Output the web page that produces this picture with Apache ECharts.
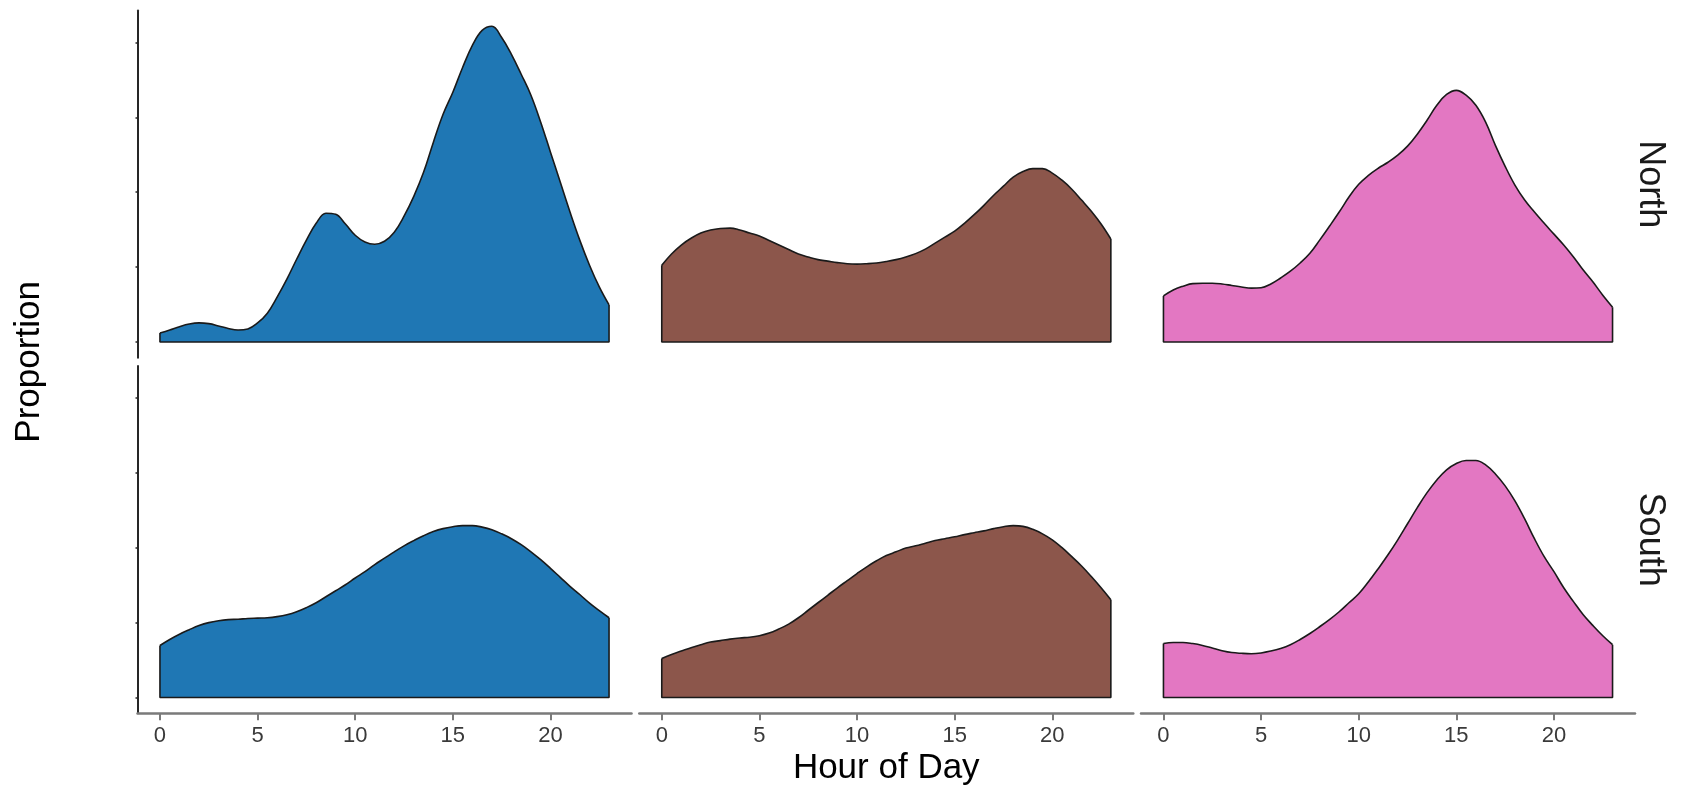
<!DOCTYPE html>
<html>
<head>
<meta charset="utf-8">
<script src="https://cdn.jsdelivr.net/npm/echarts@6/dist/echarts.min.js"></script>
<style>
html,body{margin:0;padding:0;background:#fff;}
#chart{width:1688px;height:791px;}
</style>
</head>
<body>
<div id="chart"></div>
<script>
// ---- data (proportion in percent) ----
const hours = [0,0.5,1,1.5,2,2.5,3,3.5,4,4.5,5,5.5,6,6.5,7,7.5,8,8.5,9,9.5,10,10.5,11,11.5,12,12.5,13,13.5,14,14.5,15,15.5,16,16.5,17,17.5,18,18.5,19,19.5,20,20.5,21,21.5,22,22.5,23];
const rowLabels = ['North', 'South'];
const xTicks = [0, 5, 10, 15, 20];
const yTicks = [0, 2, 4, 6, 8];
const xTitle = 'Hour of Day';
const yTitle = 'Proportion';
const groupColors = ['#1f77b4', '#8c564b', '#e377c2'];

const northBlue  = [0.24,0.32,0.41,0.48,0.51,0.49,0.43,0.36,0.32,0.35,0.51,0.77,1.20,1.68,2.21,2.72,3.17,3.44,3.41,3.15,2.85,2.67,2.61,2.69,2.93,3.36,3.89,4.53,5.33,6.08,6.67,7.33,7.92,8.32,8.43,8.13,7.68,7.15,6.59,5.87,5.07,4.27,3.47,2.72,2.05,1.47,0.99];
const northBrown = [2.05,2.35,2.59,2.77,2.91,2.99,3.03,3.04,2.99,2.91,2.83,2.71,2.59,2.47,2.35,2.27,2.20,2.16,2.12,2.09,2.08,2.09,2.11,2.15,2.20,2.27,2.36,2.48,2.64,2.80,2.96,3.17,3.40,3.65,3.92,4.16,4.40,4.55,4.63,4.63,4.51,4.32,4.08,3.79,3.49,3.15,2.75];
const northPink  = [1.23,1.39,1.49,1.56,1.57,1.57,1.55,1.51,1.47,1.44,1.45,1.55,1.71,1.89,2.11,2.37,2.72,3.09,3.47,3.87,4.21,4.45,4.64,4.80,4.99,5.23,5.55,5.92,6.32,6.61,6.72,6.59,6.32,5.87,5.25,4.69,4.19,3.79,3.47,3.17,2.88,2.59,2.27,1.92,1.60,1.25,0.93];
const southBlue  = [1.39,1.55,1.69,1.81,1.92,2.00,2.05,2.08,2.09,2.11,2.12,2.13,2.16,2.21,2.29,2.40,2.53,2.69,2.85,3.01,3.19,3.36,3.55,3.72,3.89,4.05,4.19,4.32,4.43,4.51,4.56,4.59,4.59,4.55,4.48,4.37,4.24,4.08,3.89,3.68,3.45,3.21,2.97,2.75,2.52,2.32,2.13];
const southBrown = [1.04,1.15,1.24,1.33,1.41,1.48,1.52,1.56,1.59,1.61,1.65,1.72,1.83,1.96,2.13,2.33,2.53,2.73,2.93,3.12,3.31,3.49,3.65,3.79,3.89,3.99,4.05,4.12,4.19,4.24,4.29,4.35,4.40,4.45,4.51,4.56,4.59,4.57,4.49,4.37,4.21,4.00,3.76,3.51,3.23,2.93,2.61];
const southPink  = [1.44,1.47,1.47,1.44,1.39,1.32,1.25,1.20,1.18,1.17,1.19,1.24,1.31,1.41,1.55,1.71,1.89,2.08,2.29,2.53,2.77,3.09,3.44,3.81,4.21,4.64,5.07,5.47,5.81,6.08,6.25,6.33,6.33,6.21,5.97,5.65,5.25,4.77,4.24,3.76,3.36,2.93,2.56,2.21,1.92,1.65,1.41];

const panels = [
  [northBlue, northBrown, northPink],
  [southBlue, southBrown, southPink]
];

// ---- layout ----
const FONT = '"Liberation Sans", Arial, Helvetica, sans-serif';
const colLeft = [137.5, 639.3, 1141];
const colWidth = 494;
const rowTop = [10.5, 366];
const rowHeight = 347.3;

const allVals = [].concat(...panels.map(r => [].concat(...r)));
const ymax = Math.max(...allVals);
const yMin = -0.05 * ymax, yMax = 1.05 * ymax;
const span = hours[hours.length-1] - hours[0];
const xMin = hours[0] - 0.05 * span;
const xMax = hours[hours.length-1] + 0.05 * span;

const grid = [], xAxis = [], yAxis = [], series = [];
let idx = 0;
for (let r = 0; r < 2; r++) {
  for (let c = 0; c < 3; c++) {
    grid.push({left: colLeft[c], top: rowTop[r], width: colWidth, height: rowHeight, containLabel: false});
    const bottom = r === 1;
    xAxis.push({
      type: 'value', gridIndex: idx, min: xMin, max: xMax,
      axisLine: {show: bottom, onZero: false, lineStyle: {color: '#7a7a7a', width: 2.5}},
      axisTick: {show: bottom, customValues: xTicks, length: 7, lineStyle: {color: '#7a7a7a', width: 2}},
      axisLabel: {show: bottom, customValues: xTicks, margin: 12, color: '#3a3a3a', fontSize: 22, fontFamily: FONT},
      splitLine: {show: false}
    });
    const left = c === 0;
    yAxis.push({
      type: 'value', gridIndex: idx, min: yMin, max: yMax,
      axisLine: {show: left, onZero: false, lineStyle: {color: '#262626', width: 2}},
      axisTick: {show: left, customValues: yTicks, length: 2, lineStyle: {color: '#262626', width: 1.5}},
      axisLabel: {show: false},
      splitLine: {show: false}
    });
    const vals = panels[r][c];
    const n = hours.length;
    series.push({
      type: 'line', xAxisIndex: idx, yAxisIndex: idx, smooth: 0.4,
      symbol: 'none', silent: true,
      data: hours.map((h, i) => [h, vals[i]]),
      lineStyle: {color: '#1a1a1a', width: 1.6},
      areaStyle: {color: groupColors[c], opacity: 1},
      z: 2
    });
    series.push({
      type: 'line', xAxisIndex: idx, yAxisIndex: idx, smooth: false,
      symbol: 'none', silent: true,
      data: [[hours[0], vals[0]], [hours[0], 0], [hours[n-1], 0], [hours[n-1], vals[n-1]]],
      lineStyle: {color: '#1a1a1a', width: 1.6},
      z: 3
    });
    idx++;
  }
}

const plotLeft = colLeft[0], plotRight = colLeft[2] + colWidth;
const plotTop = rowTop[0], plotBottom = rowTop[1] + rowHeight;

const graphic = [
  {type: 'text', x: (plotLeft + plotRight) / 2, y: 768, silent: true,
   style: {text: xTitle, font: '35px ' + FONT, fill: '#000', align: 'center', verticalAlign: 'middle'}},
  {type: 'text', x: 29, y: (plotTop + plotBottom) / 2, rotation: Math.PI / 2, silent: true,
   style: {text: yTitle, font: '35px ' + FONT, fill: '#000', align: 'center', verticalAlign: 'middle'}},
  {type: 'text', x: 1650, y: rowTop[0] + rowHeight / 2, rotation: -Math.PI / 2, silent: true,
   style: {text: rowLabels[0], font: '36px ' + FONT, fill: '#1a1a1a', align: 'center', verticalAlign: 'middle'}},
  {type: 'text', x: 1650, y: rowTop[1] + rowHeight / 2, rotation: -Math.PI / 2, silent: true,
   style: {text: rowLabels[1], font: '36px ' + FONT, fill: '#1a1a1a', align: 'center', verticalAlign: 'middle'}}
];

const chart = echarts.init(document.getElementById('chart'), null, {renderer: 'canvas'});
chart.setOption({
  animation: false,
  backgroundColor: '#ffffff',
  grid, xAxis, yAxis, series, graphic
});
</script>
</body>
</html>
